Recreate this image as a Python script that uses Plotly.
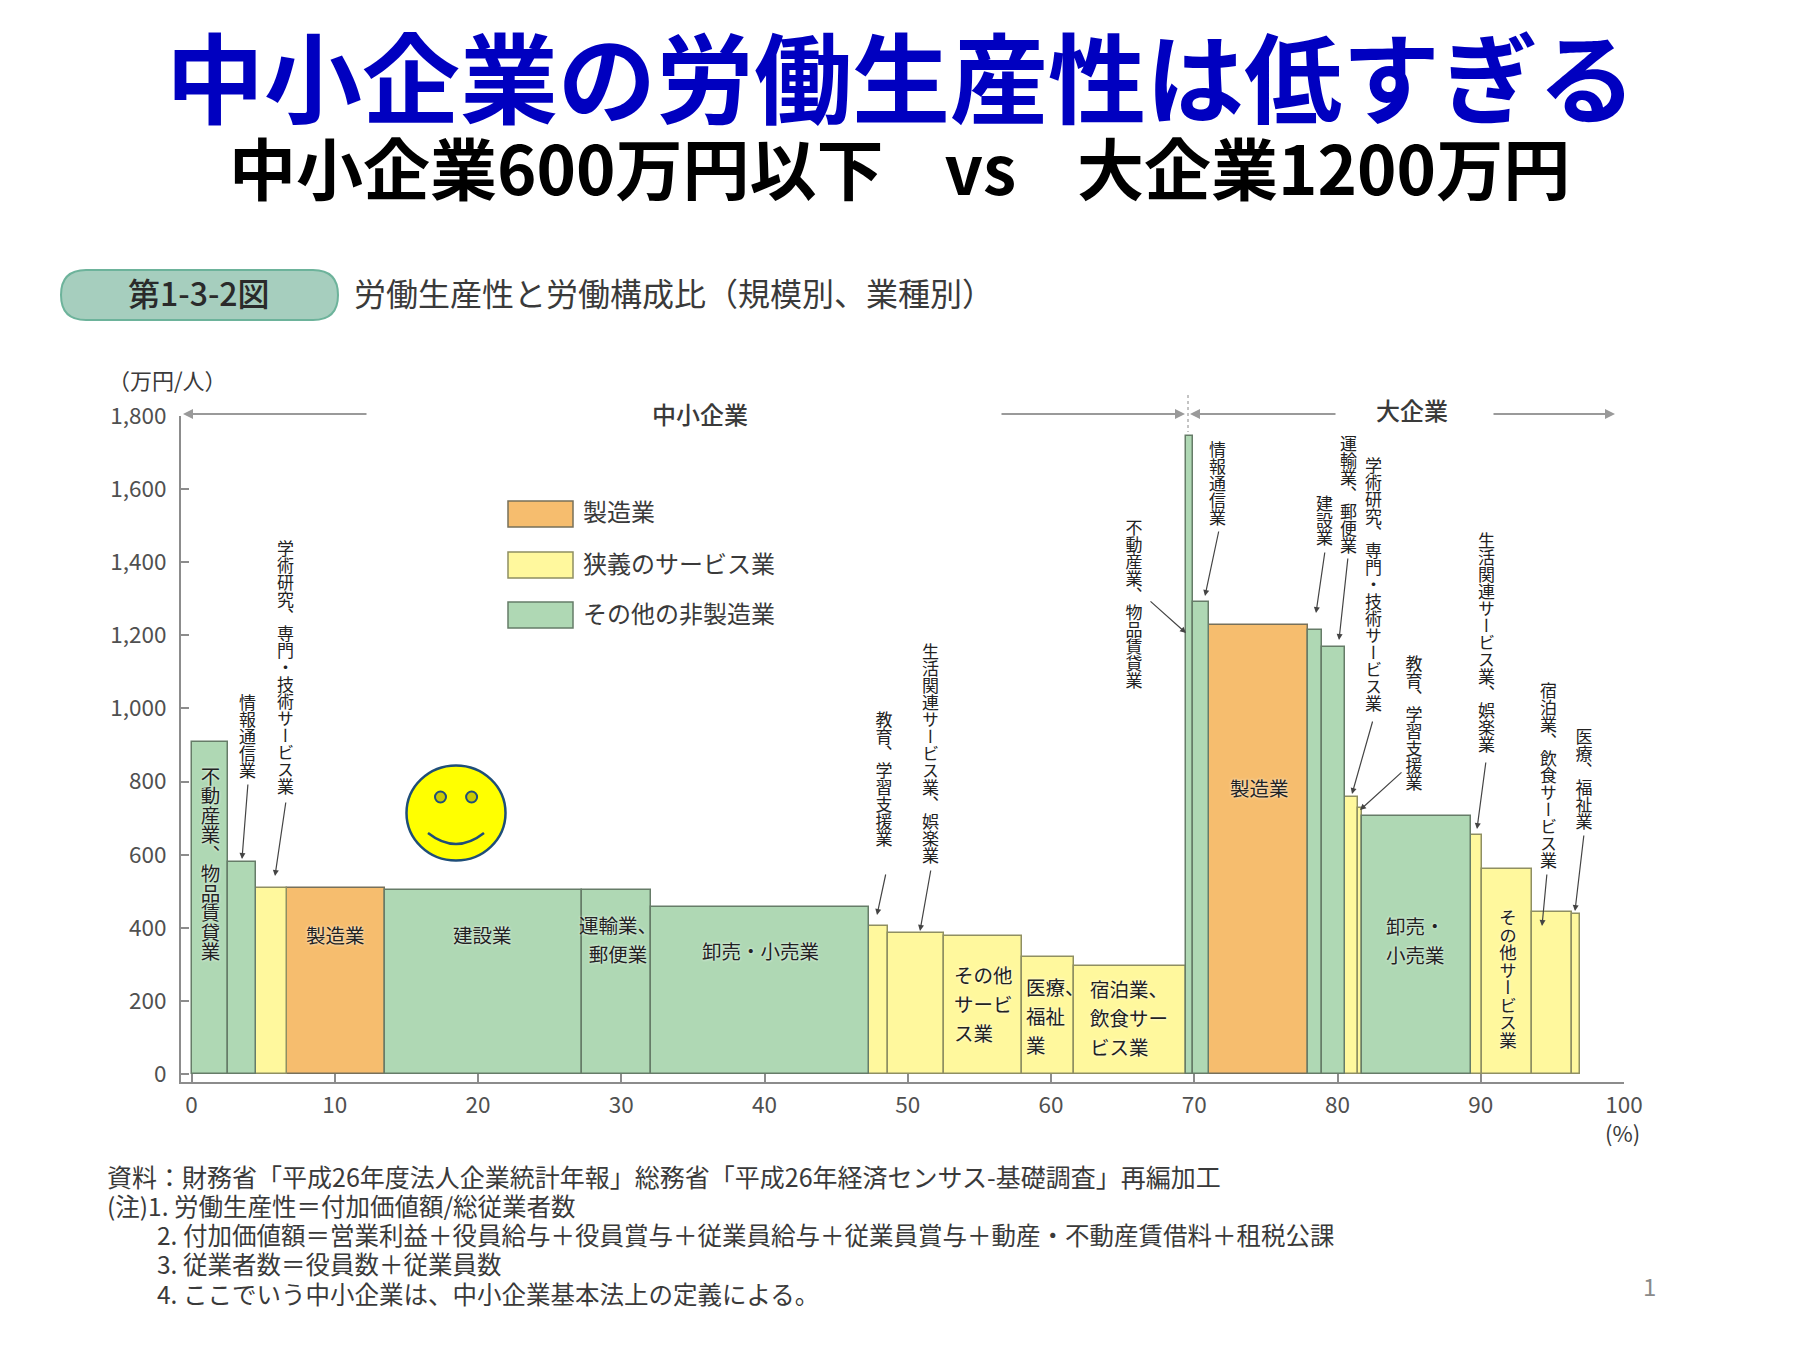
import json
import plotly.graph_objects as go

FONT = "Noto Sans CJK JP"
W, H = 1800, 1350

# ---------- data ----------
industries = ["不動産業、物品賃貸業", "情報通信業", "学術研究、専門・技術サービス業", "製造業", "建設業",
              "運輸業、郵便業", "卸売・小売業", "教育、学習支援業", "生活関連サービス業、娯楽業", "その他サービス業",
              "医療、福祉業", "宿泊業、飲食サービス業",
              "不動産業、物品賃貸業", "情報通信業", "製造業", "建設業", "運輸業、郵便業",
              "学術研究、専門・技術サービス業", "教育、学習支援業", "卸売・小売業", "生活関連サービス業、娯楽業",
              "その他サービス業", "宿泊業、飲食サービス業", "医療、福祉業"]
groups = ["他", "他", "狭", "製", "他", "他", "他", "狭", "狭", "狭", "狭", "狭",
          "他", "他", "製", "他", "他", "狭", "狭", "他", "狭", "狭", "狭", "狭"]
edges = [0, 2.57, 4.52, 6.66, 13.5, 27.25, 32.1, 47.3, 48.6, 52.5, 57.95, 61.6, 69.4,
         69.9, 71.05, 77.95, 78.9, 80.55, 81.4, 81.7, 89.3, 90.1, 93.6, 96.4, 96.9]
productivity = [907, 580, 510, 510, 503, 503, 458, 404, 385, 377, 320, 295,
                1746, 1291, 1227, 1214, 1167, 757, 727, 706, 653, 562, 443, 438]
legend_names = {"製": "製造業", "狭": "狭義のサービス業", "他": "その他の非製造業"}
fills = {"製": "#F6BD6E", "狭": "#FFF89D", "他": "#AFD8B4"}
outlines = {"製": "#77705A", "狭": "#8F8F62", "他": "#667C68"}
x_ticks = list(range(0, 101, 10))
y_ticks = list(range(0, 1801, 200))

PX = lambda v: v / W
PY = lambda v: 1 - v / H

fig = go.Figure()
for g in ["製", "狭", "他"]:
    idx = [i for i, k in enumerate(groups) if k == g]
    fig.add_trace(go.Bar(
        x=[edges[i] for i in idx],
        width=[edges[i + 1] - edges[i] for i in idx],
        offset=0,
        y=[productivity[i] for i in idx],
        name=legend_names[g],
        hovertext=[industries[i] for i in idx],
        marker=dict(color=fills[g], line=dict(color=outlines[g], width=1.5)),
        showlegend=False,
    ))

annotations = []
shapes = []


def text(s, x, y, size, color="#3A3A3A", anchor="center", weight=400, shadow=None, yanchor="middle"):
    f = dict(family=FONT, size=size, color=color, weight=weight)
    if shadow:
        f["shadow"] = shadow
    annotations.append(dict(text=s, x=PX(x), y=PY(y), xref="paper", yref="paper", showarrow=False,
                            xanchor=anchor, yanchor=yanchor, align=anchor if anchor != "center" else "center",
                            font=f))
    return len(annotations) - 1


def arrow(x0, y0, x1, y1, color="#444444", width=1.2, size=1.0):
    annotations.append(dict(text="", x=PX(x1), y=PY(y1), xref="paper", yref="paper",
                            ax=x0 - x1, ay=y0 - y1, axref="pixel", ayref="pixel", showarrow=True,
                            arrowhead=2, arrowsize=size, arrowwidth=width, arrowcolor=color))


# ---------- titles ----------
text("中小企業の労働生産性は低すぎる", 901, 73, 98, color="#0000C0", weight=700)
text("中小企業600万円以下\u00a0\u00a0\u00a0\u00a0vs\u00a0\u00a0\u00a0\u00a0大企業1200万円", 899, 165, 67, color="#000000", weight=700)

# heading pill
x0, x1, y0, y1 = 61, 338, 270, 320
k = 25
shapes.append(dict(type="path", xref="paper", yref="paper",
                   path=(f"M {PX(x0 + k)} {PY(y0)} L {PX(x1 - k)} {PY(y0)} "
                         f"Q {PX(x1)} {PY(y0)} {PX(x1)} {PY((y0 + y1) / 2)} "
                         f"Q {PX(x1)} {PY(y1)} {PX(x1 - k)} {PY(y1)} "
                         f"L {PX(x0 + k)} {PY(y1)} "
                         f"Q {PX(x0)} {PY(y1)} {PX(x0)} {PY((y0 + y1) / 2)} "
                         f"Q {PX(x0)} {PY(y0)} {PX(x0 + k)} {PY(y0)} Z"),
                   fillcolor="#A6CEBE", line=dict(color="#6DB39B", width=2)))
text("第1-3-2図", 199, 292, 32, color="#2A2A2A", weight=500)
text("労働生産性と労働構成比\uff08規模別、業種別\uff09", 352, 292, 32, anchor="left")

# axis units
text("\uff08万円/人\uff09", 167, 379, 22)
text("(%)", 1622, 1132, 22)

# size-class brackets
for a, b in [(368, 183), (1000, 1185), (1337, 1190), (1492, 1615)]:
    arrow(a, 414, b, 414, color="#9A9A9A", width=2)
shapes.append(dict(type="line", xref="paper", yref="paper", x0=PX(1188), x1=PX(1188), y0=PY(395), y1=PY(432),
                   line=dict(color="#888888", width=1, dash="dot")))
text("中小企業", 700, 413, 24, weight=500)
text("大企業", 1412, 409, 24, weight=500)

# legend swatches
for g, ytop in [("製", 501), ("狭", 552), ("他", 602)]:
    shapes.append(dict(type="rect", xref="paper", yref="paper", x0=PX(508), x1=PX(573), y0=PY(ytop), y1=PY(ytop + 26),
                       fillcolor=fills[g], line=dict(color=outlines[g], width=1.5)))
    text(legend_names[g], 581, ytop + 10, 24, anchor="left")

# ---------- vertical labels ----------
vertical = [
    ("学術研究、専門・技術サービス業", 285, 660, 17, None),
    ("情報通信業", 247, 729, 17, None),
    ("不動産業、物品賃貸業", 210, 855, 19.5, "0 0 3px #fff"),
    ("教育、学習支援業", 884, 771, 17, None),
    ("生活関連サービス業、娯楽業", 930, 746, 17, None),
    ("不動産業、物品賃貸業", 1134, 596, 17, None),
    ("情報通信業", 1217, 477, 17, None),
    ("建設業", 1324, 513, 17, None),
    ("運輸業、郵便業", 1348, 487, 17, None),
    ("学術研究、専門・技術サービス業", 1373, 577, 17, None),
    ("教育、学習支援業", 1414, 715, 17, None),
    ("生活関連サービス業、娯楽業", 1486, 636, 17, None),
    ("宿泊業、飲食サービス業", 1548, 768, 17, None),
    ("医療、福祉業", 1584, 771, 17, None),
    ("その他サービス業", 1508, 971, 17.5, "0 0 3px #fff"),
]
vertical_idx = []
for s, x, y, size, sh in vertical:
    vertical_idx.append(text(s, x, y, size, color="#222222", shadow=sh))

arrows = [(248, 783, 242, 859), (286, 801, 275, 876), (886, 873, 877, 915), (931, 869, 920, 931),
          (1149, 600, 1186, 633), (1219, 530, 1205, 596), (1325, 551, 1316, 613), (1348, 557, 1339, 640),
          (1373, 720, 1352, 794), (1403, 771, 1360, 810), (1486, 761, 1477, 829), (1547, 873, 1542, 926),
          (1584, 834, 1575, 911)]
for a in arrows:
    arrow(*a)

# in-bar horizontal labels
halo = "0 0 3px #fff"
text("製造業", 335, 934, 19.5, color="#222222", shadow=halo)
text("建設業", 483, 934, 19.5, color="#222222", shadow=halo)
text("運輸業、<br>郵便業", 618, 937, 19.5, color="#222222", shadow=halo)
text("卸売・小売業", 760, 950, 19.5, color="#222222", shadow=halo)
text("その他<br>サービ<br>ス業", 952, 1000, 19.5, color="#222222", anchor="left", shadow=halo)
text("医療、<br>福祉<br>業", 1024, 1012, 19.5, color="#222222", anchor="left", shadow=halo)
text("宿泊業、<br>飲食サー<br>ビス業", 1088, 1014, 19.5, color="#222222", anchor="left", shadow=halo)
text("製造業", 1259, 787, 19.5, color="#222222", shadow=halo)
text("卸売・<br>小売業", 1415, 938, 19.5, color="#222222", shadow=halo)

# smiley
cx, cy, rx, ry = 456, 813, 49.5, 47.5
shapes.append(dict(type="circle", xref="paper", yref="paper", x0=PX(cx - rx), x1=PX(cx + rx), y0=PY(cy + ry), y1=PY(cy - ry),
                   fillcolor="#FFFF00", line=dict(color="#1F4E79", width=2.5)))
for ex in [440.5, 471.6]:
    shapes.append(dict(type="circle", xref="paper", yref="paper", x0=PX(ex - 5.5), x1=PX(ex + 5.5), y0=PY(797 + 5.5), y1=PY(797 - 5.5),
                       fillcolor="#C9C900", line=dict(color="#1F4E79", width=2)))
shapes.append(dict(type="path", xref="paper", yref="paper",
                   path=f"M {PX(428)} {PY(833)} Q {PX(456)} {PY(855)} {PX(484)} {PY(833)}",
                   line=dict(color="#1F4E79", width=2.5)))

# footnotes
notes = [
    ("資料\uff1a財務省「平成26年度法人企業統計年報」総務省「平成26年経済センサス-基礎調査」再編加工", 105, 1176, 25),
    ("(注)1. 労働生産性\uff1d付加価値額/総従業者数", 105, 1205, 24.5),
    ("2. 付加価値額\uff1d営業利益\uff0b役員給与\uff0b役員賞与\uff0b従業員給与\uff0b従業員賞与\uff0b動産・不動産賃借料\uff0b租税公課", 155, 1234, 24.5),
    ("3. 従業者数\uff1d役員数\uff0b従業員数", 155, 1263, 24.5),
    ("4. ここでいう中小企業は、中小企業基本法上の定義による。", 155, 1293, 24.5),
]
for s, x, y, size in notes:
    text(s, x, y, size, anchor="left")
text("1", 1649, 1285, 24, color="#8A8A8A")

axis_font = dict(family=FONT, size=22.5, color="#505050")
axis_color = "#8C8C8C"
fig.update_layout(
    width=W, height=H, margin=dict(l=0, r=0, t=0, b=0, autoexpand=False),
    paper_bgcolor="white", plot_bgcolor="white", barmode="overlay", bargap=0,
    showlegend=False, annotations=annotations, shapes=shapes,
    xaxis=dict(domain=[PX(181), PX(1624)], range=[-0.735, 100], tickvals=x_ticks, showgrid=False, zeroline=False,
               showline=True, linecolor=axis_color, linewidth=2, ticks="inside", ticklen=8, tickwidth=2,
               tickcolor=axis_color, tickfont=axis_font, ticklabelstandoff=2),
    yaxis=dict(domain=[PY(1082), PY(416)], range=[-22, 1800], tickvals=y_ticks, tickformat=",", showgrid=False,
               zeroline=False, showline=True, linecolor=axis_color, linewidth=2, ticks="inside", ticklen=8,
               tickwidth=2, tickcolor=axis_color, tickfont=axis_font, ticklabelstandoff=8),
)

post = """
document.body.style.margin = '0';
var vi = %s;
document.querySelectorAll('.annotation').forEach(function (g) {
  var el = g.querySelector('.annotation-text');
  if (!el) { return; }
  if (vi.indexOf(parseInt(g.getAttribute('data-index'))) >= 0) {
    el.style.writingMode = 'vertical-rl';
  }
  var lines = el.querySelectorAll('tspan.line');
  if (lines.length > 1) {
    lines.forEach(function (t) {
      var d = parseFloat(t.getAttribute('dy') || '0');
      t.setAttribute('dy', (d * 1.15) + 'em');
    });
  }
});
""" % json.dumps(vertical_idx)
fig.write_html("out.html", post_script=post, config={"displayModeBar": False})
